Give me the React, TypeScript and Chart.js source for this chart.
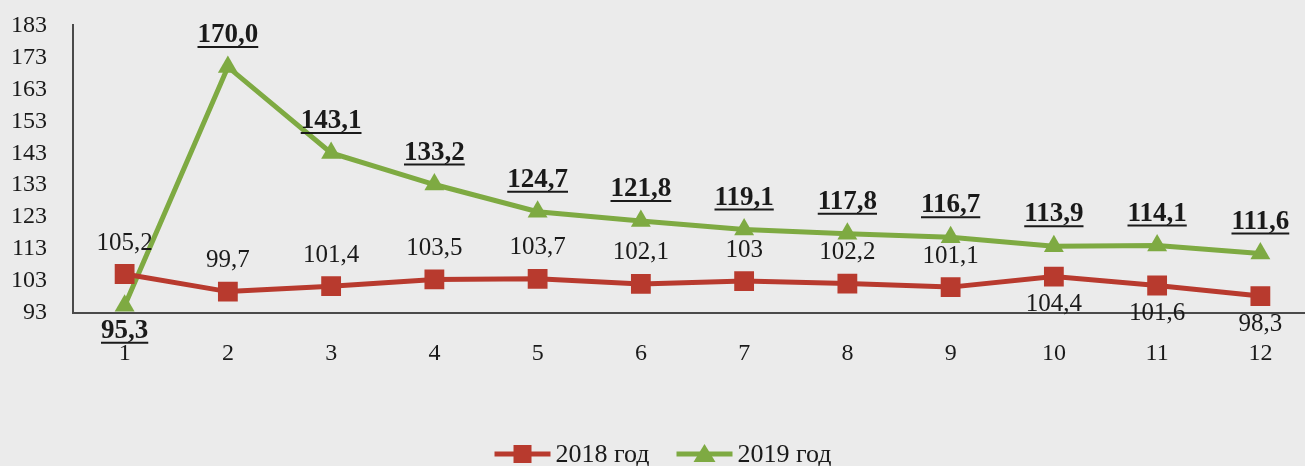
import React, { useEffect, useRef } from 'react';
import Chart from 'chart.js/auto';

const categories = ['1', '2', '3', '4', '5', '6', '7', '8', '9', '10', '11', '12'];
const series2018 = [105.2, 99.7, 101.4, 103.5, 103.7, 102.1, 103, 102.2, 101.1, 104.4, 101.6, 98.3];
const series2019 = [95.3, 170.0, 143.1, 133.2, 124.7, 121.8, 119.1, 117.8, 116.7, 113.9, 114.1, 111.6];
const labels2018 = ['105,2', '99,7', '101,4', '103,5', '103,7', '102,1', '103', '102,2', '101,1', '104,4', '101,6', '98,3'];
const labels2019 = ['95,3', '170,0', '143,1', '133,2', '124,7', '121,8', '119,1', '117,8', '116,7', '113,9', '114,1', '111,6'];
const below2018 = [false, false, false, false, false, false, false, false, false, true, true, true];
const below2019 = [true, false, false, false, false, false, false, false, false, false, false, false];
const yTicks = [93, 103, 113, 123, 133, 143, 153, 163, 173, 183];
const seriesNames = ['2018 год', '2019 год'];

const RED = '#B83A2E';
const GREEN = '#7EAA42';
const BG = '#EBEBEB';
const TEXT = '#1a1a1a';
const FONT = '"Liberation Serif", "Times New Roman", serif';
const CANVAS_W = 1326;
const CANVAS_H = 466;

const bgPlugin = {
  id: 'bg',
  beforeDraw(chart: any) {
    const { ctx, width, height } = chart;
    ctx.save();
    ctx.fillStyle = BG;
    ctx.fillRect(0, 0, width, height);
    ctx.restore();
  },
};

const labelPlugin = {
  id: 'valueLabels',
  afterDatasetsDraw(chart: any) {
    const ctx = chart.ctx;
    ctx.save();
    ctx.textAlign = 'center';
    ctx.textBaseline = 'middle';
    const m0 = chart.getDatasetMeta(0);
    ctx.font = `25px ${FONT}`;
    ctx.fillStyle = TEXT;
    m0.data.forEach((p: any, i: number) => {
      const y = below2018[i] ? p.y + 28 : p.y - 31;
      ctx.fillText(labels2018[i], p.x, y);
    });
    const m1 = chart.getDatasetMeta(1);
    ctx.font = `bold 27px ${FONT}`;
    ctx.strokeStyle = TEXT;
    ctx.lineWidth = 2;
    m1.data.forEach((p: any, i: number) => {
      const y = below2019[i] ? p.y + 25 : p.y - 32;
      ctx.fillText(labels2019[i], p.x, y);
      const w = ctx.measureText(labels2019[i]).width;
      ctx.beginPath();
      ctx.moveTo(p.x - w / 2, y + 12);
      ctx.lineTo(p.x + w / 2, y + 12);
      ctx.stroke();
    });
    ctx.restore();
  },
};

const legendPlugin = {
  id: 'customLegend',
  afterDraw(chart: any) {
    const ctx = chart.ctx;
    const y = 454;
    const lineW = 56;
    const gapText = 5;
    const gapItem = 27;
    ctx.save();
    ctx.font = `26px ${FONT}`;
    ctx.textBaseline = 'middle';
    ctx.textAlign = 'left';
    const widths = seriesNames.map((n) => ctx.measureText(n).width);
    const total = lineW * 2 + gapText * 2 + widths[0] + widths[1] + gapItem;
    let x = 663 - total / 2;
    const colors = [RED, GREEN];
    seriesNames.forEach((name, i) => {
      ctx.strokeStyle = colors[i];
      ctx.fillStyle = colors[i];
      ctx.lineWidth = 5;
      ctx.beginPath();
      ctx.moveTo(x, y);
      ctx.lineTo(x + lineW, y);
      ctx.stroke();
      const cx = x + lineW / 2;
      if (i === 0) {
        ctx.fillRect(cx - 9, y - 9, 18, 18);
      } else {
        ctx.beginPath();
        ctx.moveTo(cx, y - 10);
        ctx.lineTo(cx + 11, y + 8);
        ctx.lineTo(cx - 11, y + 8);
        ctx.closePath();
        ctx.fill();
      }
      ctx.fillStyle = TEXT;
      ctx.fillText(name, x + lineW + gapText, y + 1);
      x += lineW + gapText + widths[i] + gapItem;
    });
    ctx.restore();
  },
};

export default function App() {
  const ref = useRef<HTMLCanvasElement>(null);
  useEffect(() => {
    document.body.style.margin = '0';
    document.body.style.background = BG;
    document.body.style.overflow = 'hidden';
    const chart = new Chart(ref.current!, {
      type: 'line',
      data: {
        labels: categories,
        datasets: [
          {
            label: seriesNames[0],
            data: series2018,
            borderColor: RED,
            backgroundColor: RED,
            borderWidth: 5,
            pointStyle: 'rect',
            pointRadius: 14,
            pointBorderWidth: 0,
            tension: 0,
          },
          {
            label: seriesNames[1],
            data: series2019,
            borderColor: GREEN,
            backgroundColor: GREEN,
            borderWidth: 5,
            pointStyle: 'triangle',
            pointRadius: 11.5,
            pointBorderWidth: 0,
            tension: 0,
          },
        ],
      },
      options: {
        animation: false,
        responsive: false,
        layout: { padding: { top: 25, right: 0, left: 0, bottom: 0 } },
        plugins: {
          tooltip: { enabled: false },
          legend: { display: false },
        },
        scales: {
          x: {
            offset: true,
            grid: {
              display: true,
              drawOnChartArea: false,
              drawTicks: true,
              tickLength: 20,
              tickColor: 'rgba(0,0,0,0)',
            },
            border: { display: true, color: '#4a4a4a', width: 2 },
            ticks: { color: TEXT, font: { family: FONT, size: 24 }, padding: 6, autoSkip: false, maxRotation: 0 },
            afterFit: (s: any) => {
              s.height = 153;
            },
          },
          y: {
            min: 93,
            max: 183,
            grid: {
              display: true,
              drawOnChartArea: false,
              drawTicks: true,
              tickLength: 15,
              tickColor: 'rgba(0,0,0,0)',
            },
            border: { display: true, color: '#4a4a4a', width: 2 },
            ticks: { color: TEXT, font: { family: FONT, size: 24 }, padding: 11, autoSkip: false },
            afterBuildTicks: (s: any) => {
              s.ticks = yTicks.map((v) => ({ value: v }));
            },
            afterFit: (s: any) => {
              s.width = 73;
            },
          },
        },
      },
      plugins: [bgPlugin, labelPlugin, legendPlugin],
    });
    return () => chart.destroy();
  }, []);
  return (
    <div style={{ width: 1305, height: CANVAS_H, overflow: 'hidden' }}>
      <canvas ref={ref} width={CANVAS_W} height={CANVAS_H} style={{ display: 'block' }} />
    </div>
  );
}
